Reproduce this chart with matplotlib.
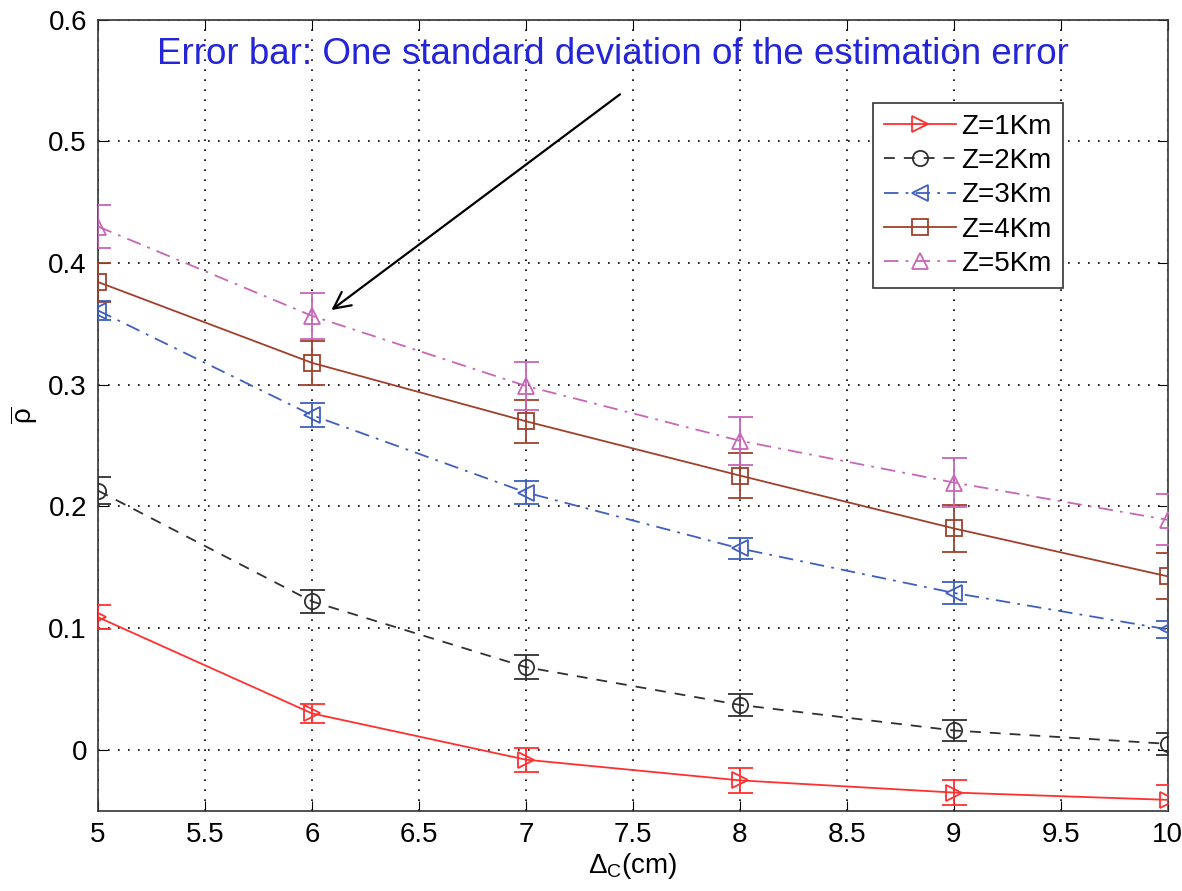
import numpy as np
import matplotlib.pyplot as plt

plt.rcParams['font.family'] = ['Liberation Sans', 'DejaVu Sans']
plt.rcParams['mathtext.fontset'] = 'custom'
plt.rcParams['mathtext.rm'] = 'Liberation Sans'
plt.rcParams['mathtext.it'] = 'Liberation Sans'

# data
delta_c = [5, 6, 7, 8, 9, 10]
rho_z1 = [0.109, 0.030, -0.008, -0.025, -0.035, -0.041]
err_z1 = [0.010, 0.008, 0.010, 0.010, 0.010, 0.012]
rho_z2 = [0.213, 0.122, 0.068, 0.037, 0.016, 0.005]
err_z2 = [0.011, 0.0095, 0.010, 0.009, 0.009, 0.009]
rho_z3 = [0.361, 0.275, 0.2115, 0.1655, 0.129, 0.099]
err_z3 = [0.008, 0.010, 0.0095, 0.009, 0.009, 0.007]
rho_z4 = [0.3844, 0.318, 0.270, 0.2254, 0.182, 0.1426]
err_z4 = [0.016, 0.018, 0.0175, 0.0185, 0.019, 0.019]
rho_z5 = [0.430, 0.3566, 0.299, 0.254, 0.2197, 0.189]
err_z5 = [0.0175, 0.019, 0.0195, 0.0195, 0.020, 0.021]

labels = ['Z=1Km', 'Z=2Km', 'Z=3Km', 'Z=4Km', 'Z=5Km']
series = [rho_z1, rho_z2, rho_z3, rho_z4, rho_z5]
errors = [err_z1, err_z2, err_z3, err_z4, err_z5]
colors = ['#ff3030', '#303030', '#3f5fbf', '#a0402c', '#c866b8']
markers = ['>', 'o', '<', 's', '^']
styles = ['-', (0, (6, 5)), (0, (8, 4, 1.5, 4)), '-', (0, (8, 4, 1.5, 4))]

fig = plt.figure(figsize=(11.82, 8.91), dpi=100)
ax = fig.add_axes([0.083, 0.090, 0.905, 0.888])

for y, e, lab, c, m, ls in zip(series, errors, labels, colors, markers, styles):
    ax.errorbar(delta_c, y, yerr=e, fmt='none', ecolor=c, elinewidth=1.3,
                capsize=9, capthick=1.3, zorder=3)
    ax.plot(delta_c, y, color=c, linestyle=ls, linewidth=1.3, marker=m,
            markersize=11, markerfacecolor='none', markeredgecolor=c,
            markeredgewidth=1.3, label=lab, zorder=4)

ax.set_xlim(5, 10)
ax.set_ylim(-0.05, 0.6)
ax.set_xticks(np.arange(5, 10.01, 0.5))
ax.set_xticklabels(['5', '5.5', '6', '6.5', '7', '7.5', '8', '8.5', '9', '9.5', '10'])
ax.set_yticks(np.arange(0, 0.61, 0.1))
ax.set_yticklabels(['0', '0.1', '0.2', '0.3', '0.4', '0.5', '0.6'])
ax.tick_params(direction='in', length=7, labelsize=20, top=True, right=True, pad=8)
ax.grid(True, color='black', linestyle=(0, (1, 5)), linewidth=1.2)
for sp in ax.spines.values():
    sp.set_linewidth(1.2)
    sp.set_color('#333333')

ax.set_xlabel(r'$\Delta_{\mathrm{C}}$(cm)', fontsize=20, labelpad=2)
ax.set_ylabel(r'$\overline{\mathrm{\rho}}$', fontsize=20, labelpad=6)

leg = ax.legend(loc='upper right', bbox_to_anchor=(0.902, 0.895), fontsize=20,
                handlelength=2.6, handletextpad=0.2, labelspacing=0.3,
                borderpad=0.4, borderaxespad=0, fancybox=False, framealpha=1,
                edgecolor='#333333')
leg.get_frame().set_linewidth(1.2)

ax.annotate('', xy=(6.08, 0.36), xytext=(7.45, 0.54),
            arrowprops=dict(arrowstyle='->', color='black', lw=1.6,
                            mutation_scale=30))
ax.text(0.481, 0.956, 'Error bar: One standard deviation of the estimation error',
        transform=ax.transAxes, ha='center', va='center', fontsize=26.5,
        color='#2424d8')

fig.savefig('out.png', dpi=100)
